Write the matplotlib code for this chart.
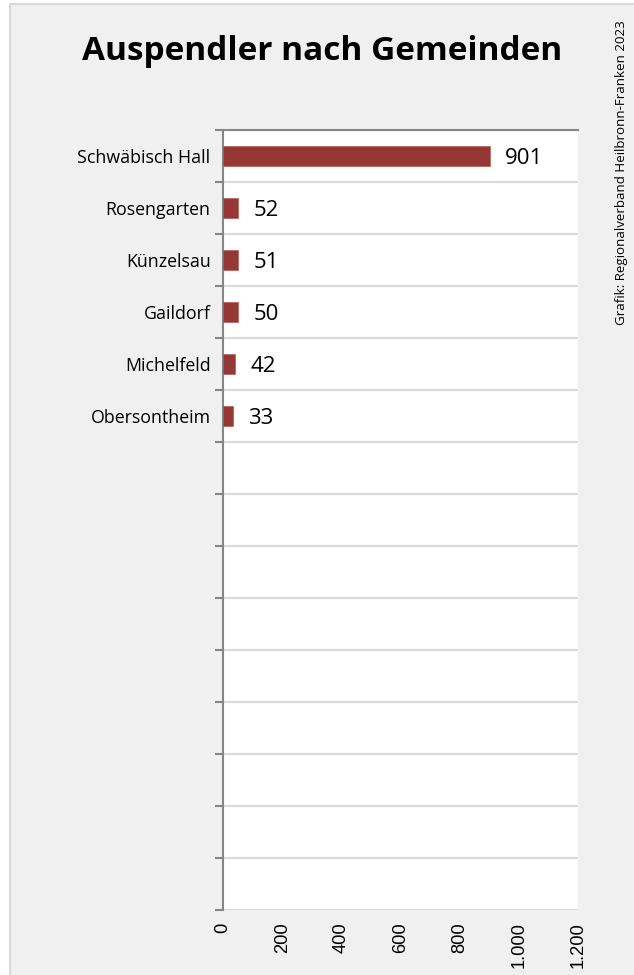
import matplotlib.pyplot as plt
from matplotlib.patches import Rectangle

# Auspendler nach Gemeinden (15 slots, only 6 filled)
gemeinden = ["Schwäbisch Hall", "Rosengarten", "Künzelsau", "Gaildorf", "Michelfeld", "Obersontheim"]
auspendler = [901, 52, 51, 50, 42, 33]
n_slots = 15
x_ticks = [0, 200, 400, 600, 800, 1000, 1200]
x_labels = ["0", "200", "400", "600", "800", "1.000", "1.200"]

W, H = 634, 975
fig = plt.figure(figsize=(W / 100, H / 100), dpi=100)
fig.patch.set_facecolor("white")
# grey chart area with thin border
fig.patches.append(Rectangle((10 / W, -0.1), 1.2, 1 - 3.5 / H + 0.1, transform=fig.transFigure,
                             facecolor="#f0f0f0", edgecolor="#d9d9d9", linewidth=1.5, zorder=-10))

ax = fig.add_axes([223 / W, 1 - 910 / H, (578 - 223) / W, (910 - 130) / H])
ax.set_facecolor("white")

pos = list(range(len(gemeinden)))
ax.barh(pos, auspendler, height=0.4, color="#953735", edgecolor="#b55a58", linewidth=0.5, zorder=3)
for p, v in zip(pos, auspendler):
    ax.text(v + 52, p + 0.05, str(v), va="center", ha="left", fontsize=16, family="Open Sans", color="#000000")

ax.set_xlim(0, 1200)
ax.set_ylim(n_slots - 0.5, -0.5)
ax.set_xticks(x_ticks)
ax.set_xticklabels(x_labels, rotation=90, fontsize=13.2, family="Liberation Sans")
ax.tick_params(axis="x", length=0, pad=9)

ax.set_yticks(pos)
ax.set_yticklabels(gemeinden, fontsize=12.8, family="Open Sans")
ax.tick_params(axis="y", which="major", length=0, pad=9)
ax.set_yticks([i - 0.5 for i in range(n_slots + 1)], minor=True)
ax.tick_params(axis="y", which="minor", length=6, width=1.5, color="#868686")
ax.grid(axis="y", which="minor", color="#d9d9d9", linewidth=1.5, zorder=0)

for s in ["right", "bottom"]:
    ax.spines[s].set_visible(False)
ax.spines["left"].set_color("#868686")
ax.spines["left"].set_linewidth(1.5)
ax.spines["top"].set_color("#868686")
ax.spines["top"].set_linewidth(1.5)

fig.text(322 / W, 1 - 52 / H, "Auspendler nach Gemeinden", ha="center", va="center",
         fontsize=24, fontweight="bold", family="Open Sans")
fig.text(621 / W, 1 - 20 / H, "Grafik: Regionalverband Heilbronn-Franken 2023", rotation=90,
         ha="center", va="top", fontsize=9.6, family="Open Sans")

fig.savefig("out.png", dpi=100)
